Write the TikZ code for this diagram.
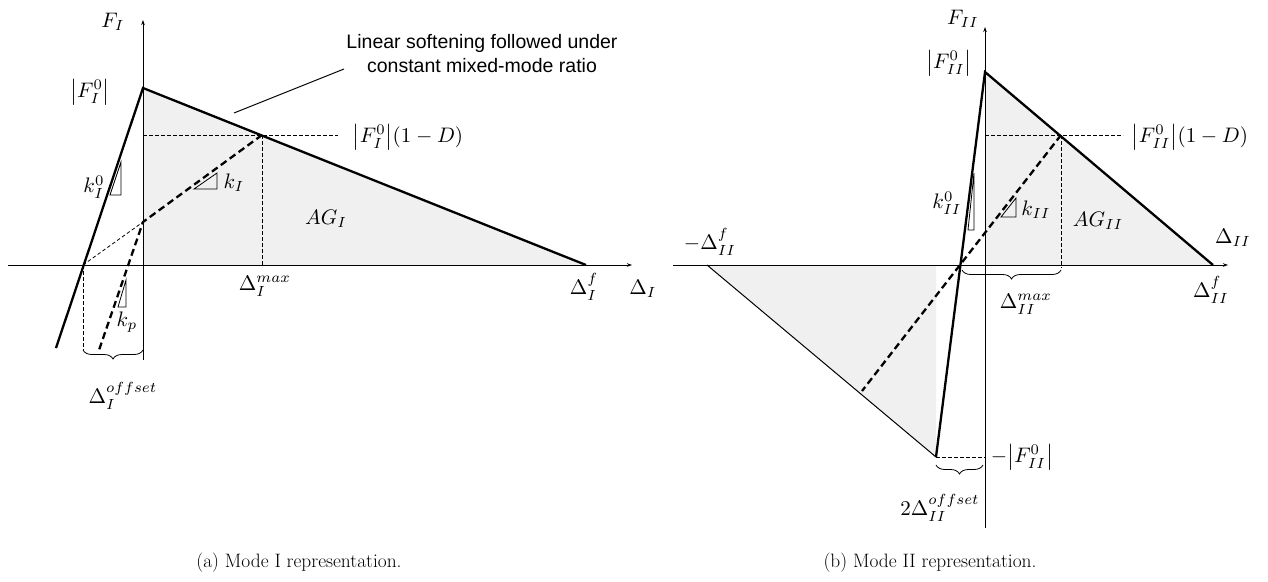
\documentclass[tikz,border=0pt]{standalone}
\usepackage{fontspec}
\newfontfamily\annotfont{Liberation Sans}
\usetikzlibrary{arrows.meta,decorations.pathreplacing}
\begin{document}
\begin{tikzpicture}[x=1pt,y=-1pt,
  axisline/.style={line width=0.9pt, -{Stealth[length=5pt,width=3.5pt]}},
  plainaxis/.style={line width=0.9pt},
  law/.style={line width=2.3pt},
  unload/.style={line width=2.3pt, dash pattern=on 7pt off 4pt},
  guide/.style={line width=0.8pt, dash pattern=on 3.5pt off 2.5pt},
  thinline/.style={line width=1pt},
  shade/.style={fill=black!6, draw=none},
  slopetri/.style={line width=0.8pt},
  bracebox/.style={line width=0.8pt, decorate, decoration={brace, mirror, amplitude=9pt}},
  lbl/.style={inner sep=0pt, font=\fontsize{10}{12}\selectfont, scale=2.1, transform shape},
  captext/.style={inner sep=0pt, font=\fontsize{19.4}{23}\selectfont},
  note/.style={inner sep=0pt, align=center, font=\annotfont\fontsize{19.5}{24}\selectfont}
]
\useasboundingbox (0,0) rectangle (1268,581);

% ---------------- Mode I ----------------
\coordinate (O1) at (143,265);
\coordinate (P1) at (143,88);
\coordinate (F1) at (586,265);
\coordinate (E1) at (56,348);
\coordinate (X1) at (83,265);
\coordinate (S1) at (262,135);
\coordinate (U1) at (143,222);
\coordinate (K1) at (98,353);
\coordinate (HA1) at (8,265);
\coordinate (HB1) at (632,265);
\coordinate (VA1) at (143,360);
\coordinate (VB1) at (143,20);
\coordinate (SH1) at (143,135);
\coordinate (SL1) at (338,135);
\coordinate (SV1) at (262,265);
\coordinate (XD1) at (83,350);
\coordinate (BR1) at (143,350);
\coordinate (NA1) at (344,69);
\coordinate (NB1) at (234,113);

\fill[shade] (P1) -- (F1) -- (O1) -- cycle;
\draw[axisline] (HA1) -- (HB1);
\draw[axisline] (VA1) -- (VB1);
\draw[guide] (SH1) -- (SL1);
\draw[guide] (S1) -- (SV1);
\draw[guide] (X1) -- (XD1);
\draw[guide] (X1) -- (U1);
\draw[law] (E1) -- (P1) -- (F1);
\draw[unload] (S1) -- (U1) -- (K1);
\draw[thinline] (NA1) -- (NB1);
\draw[bracebox] (XD1) -- (BR1);

\draw[slopetri] (110,195) -- (121,195) -- (121,162) -- cycle;
\draw[slopetri] (194,189) -- (217,189) -- (217,173) -- cycle;
\draw[slopetri] (118,307) -- (126,307) -- (126,280) -- cycle;

\node[lbl] (lF1) at (113,22) {$F_I$};
\node[lbl] (lF10) at (90,92) {$\bigl|F_I^0\bigr|$};
\node[lbl] (lk10) at (94,187) {$k_I^0$};
\node[lbl] (lk1) at (234,183) {$k_I$};
\node[lbl] (lkp) at (127,322) {$k_p$};
\node[lbl] (lmax1) at (265,286) {$\Delta_I^{max}$};
\node[lbl] (lAG1) at (326,219) {$AG_I$};
\node[lbl] (lf1) at (584,287) {$\Delta_I^f$};
\node[lbl] (lD1) at (643,289) {$\Delta_I$};
\node[lbl] (lFD1) at (408,137) {$\bigl|F_I^0\bigr|(1-D)$};
\node[lbl] (loff1) at (123,396) {$\Delta_I^{offset}$};
\node[note] (note1) at (482,54) {Linear softening followed under\\constant mixed-mode ratio};
\node[captext] (capa) at (299,563) {(a) Mode I representation.};

% ---------------- Mode II ----------------
\coordinate (O2) at (985,265);
\coordinate (P2) at (985,72);
\coordinate (F2) at (1213,265);
\coordinate (X2) at (960,265);
\coordinate (B2) at (936,457);
\coordinate (S2) at (1061,135);
\coordinate (D2) at (862,391);
\coordinate (N2) at (707,265);
\coordinate (NT2) at (936,265);
\coordinate (HA2) at (673,265);
\coordinate (HB2) at (1228,265);
\coordinate (VA2) at (985,528);
\coordinate (VB2) at (985,27);
\coordinate (SH2) at (985,135);
\coordinate (SL2) at (1123,135);
\coordinate (SV2) at (1061,268);
\coordinate (BB2) at (985,457);
\coordinate (MA2) at (962,270);
\coordinate (MB2) at (1061,270);
\coordinate (OA2) at (936,465);
\coordinate (OB2) at (983,465);

\fill[shade] (P2) -- (F2) -- (O2) -- cycle;
\fill[shade] (N2) -- (B2) -- (NT2) -- cycle;
\draw[axisline] (HA2) -- (HB2);
\draw[plainaxis] (VA2) -- (P2);
\draw[axisline] (P2) -- (VB2);
\draw[guide] (SH2) -- (SL2);
\draw[guide] (S2) -- (SV2);
\draw[guide] (B2) -- (BB2);
\draw[thinline] (N2) -- (B2);
\draw[law] (B2) -- (P2) -- (F2);
\draw[unload] (S2) -- (D2);
\draw[bracebox] (MA2) -- (MB2);
\draw[bracebox] (OA2) -- (OB2);

\draw[slopetri] (968,230) -- (974,230) -- (974,173) -- cycle;
\draw[slopetri] (1001,217) -- (1016,217) -- (1016,198) -- cycle;

\node[lbl] (lF2) at (963,19) {$F_{II}$};
\node[lbl] (lF20) at (949,63) {$\bigl|F_{II}^0\bigr|$};
\node[lbl] (lFD2) at (1190,137) {$\bigl|F_{II}^0\bigr|(1-D)$};
\node[lbl] (lk20) at (947,203) {$k_{II}^0$};
\node[lbl] (lk2) at (1036,210) {$k_{II}$};
\node[lbl] (lAG2) at (1098,221) {$AG_{II}$};
\node[lbl] (lD2) at (1233,238) {$\Delta_{II}$};
\node[lbl] (lf2) at (1211,290) {$\Delta_{II}^f$};
\node[lbl] (lnf2) at (710,242) {$-\Delta_{II}^f$};
\node[lbl] (lmax2) at (1026,304) {$\Delta_{II}^{max}$};
\node[lbl] (lnF2) at (1022,457) {$-\bigl|F_{II}^0\bigr|$};
\node[lbl] (loff2) at (940,508) {$2\Delta_{II}^{offset}$};
\node[captext] (capb) at (930,563) {(b) Mode II representation.};
\end{tikzpicture}
\end{document}
